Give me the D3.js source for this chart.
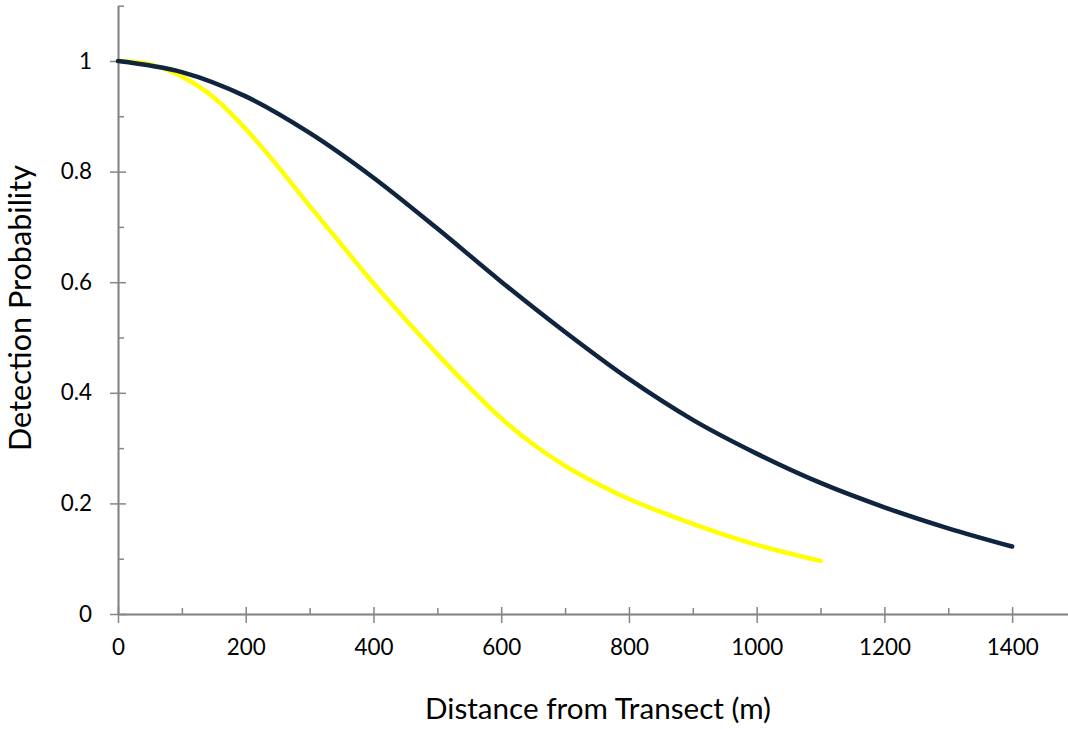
<!DOCTYPE html>
<html>
<head>
<meta charset="utf-8">
<script src="https://cdn.jsdelivr.net/npm/d3@7"></script>
<style>
  body { margin: 0; background: #fff; }
  text { font-family: Lato, "Open Sans", sans-serif; fill: #000; }
</style>
</head>
<body>
<script>
// distances (m) and detection probabilities
var navyDist = [0, 100, 200, 300, 400, 500, 600, 700, 800, 900, 1000, 1100, 1200, 1300, 1400];
var navyProb = [1.0, 0.98, 0.936, 0.870, 0.789, 0.697, 0.601, 0.510, 0.425, 0.351, 0.290, 0.237, 0.193, 0.155, 0.122];

var yellowDist = [0, 50, 100, 150, 200, 250, 300, 350, 400, 450, 500, 550, 600, 650, 700, 750, 800, 900, 1000, 1100];
var yellowProb = [1.0, 0.994, 0.972, 0.934, 0.877, 0.81, 0.738, 0.668, 0.598, 0.533, 0.470, 0.410, 0.354, 0.307, 0.268, 0.236, 0.208, 0.163, 0.125, 0.096];

var xMajor = [0, 200, 400, 600, 800, 1000, 1200, 1400];
var xMinor = [100, 300, 500, 700, 900, 1100, 1300, 1500];
var yMajor = [0, 0.2, 0.4, 0.6, 0.8, 1];
var yMinor = [0.1, 0.3, 0.5, 0.7, 0.9, 1.1];

var width = 1068, height = 729;

var svg = d3.select("body")
  .append("svg")
  .attr("width", width)
  .attr("height", height);

// echelles
var x = d3.scaleLinear().domain([0, 1500]).range([118, 1076]);
var y = d3.scaleLinear().domain([0, 1.1]).range([614, 5.7]);

var axisColor = "#868686";

// taille de police pour qu'un texte fasse la largeur voulue
function fitSize(str, targetWidth) {
  var t = svg.append("text").style("font-size", "20px").text(str);
  var w = t.node().getComputedTextLength();
  t.remove();
  return 20 * targetWidth / w;
}
var tickSize = fitSize("1400", 52);

function styleAxis(g) {
  g.select(".domain").attr("stroke", axisColor).attr("stroke-width", 1.5);
  g.selectAll(".tick line").attr("stroke", axisColor).attr("stroke-width", 1.5);
  g.selectAll(".tick text").style("font-size", tickSize + "px").attr("fill", "#000");
}

// axe des y : graduations majeures croisées, mineures à l'intérieur
svg.append("g")
  .attr("transform", "translate(118,0)")
  .call(d3.axisRight(y).tickValues(yMinor).tickSize(6).tickSizeOuter(0).tickFormat(""))
  .call(styleAxis);
svg.append("g")
  .attr("transform", "translate(118,0)")
  .call(d3.axisRight(y).tickValues(yMajor).tickSize(8).tickSizeOuter(0).tickFormat(""))
  .call(styleAxis);
svg.append("g")
  .attr("transform", "translate(118,0)")
  .call(d3.axisLeft(y).tickValues(yMajor).tickSize(8).tickSizeOuter(0).tickPadding(18)
    .tickFormat(d => d3.format("~g")(d)))
  .call(styleAxis);

// axe des x
svg.append("g")
  .attr("transform", "translate(0,614)")
  .call(d3.axisTop(x).tickValues(xMinor).tickSize(6).tickSizeOuter(0).tickFormat(""))
  .call(styleAxis);
svg.append("g")
  .attr("transform", "translate(0,614)")
  .call(d3.axisTop(x).tickValues(xMajor).tickSize(7).tickSizeOuter(0).tickFormat(""))
  .call(styleAxis);
svg.append("g")
  .attr("transform", "translate(0,614)")
  .call(d3.axisBottom(x).tickValues(xMajor).tickSize(9).tickSizeOuter(0).tickPadding(16)
    .tickFormat(d3.format("d")))
  .call(styleAxis);

// courbes
var line = d3.line()
  .x(d => x(d[0]))
  .y(d => y(d[1]))
  .curve(d3.curveCatmullRom.alpha(0.5));

svg.append("path")
  .datum(yellowDist.map((d, i) => [d, yellowProb[i]]))
  .attr("d", line)
  .attr("fill", "none")
  .attr("stroke", "#ffff00")
  .attr("stroke-width", 4.5)
  .attr("stroke-linecap", "round");

svg.append("path")
  .datum(navyDist.map((d, i) => [d, navyProb[i]]))
  .attr("d", line)
  .attr("fill", "none")
  .attr("stroke", "#0f243e")
  .attr("stroke-width", 4.5)
  .attr("stroke-linecap", "round");

// titres des axes
var xTitle = "Distance from Transect (m)";
var yTitle = "Detection Probability";

svg.append("text")
  .attr("x", 598)
  .attr("y", 719)
  .attr("text-anchor", "middle")
  .style("font-size", fitSize(xTitle, 346) + "px")
  .text(xTitle);

svg.append("text")
  .attr("transform", "translate(31,308) rotate(-90)")
  .attr("text-anchor", "middle")
  .style("font-size", fitSize(yTitle, 286) + "px")
  .text(yTitle);
</script>
</body>
</html>
